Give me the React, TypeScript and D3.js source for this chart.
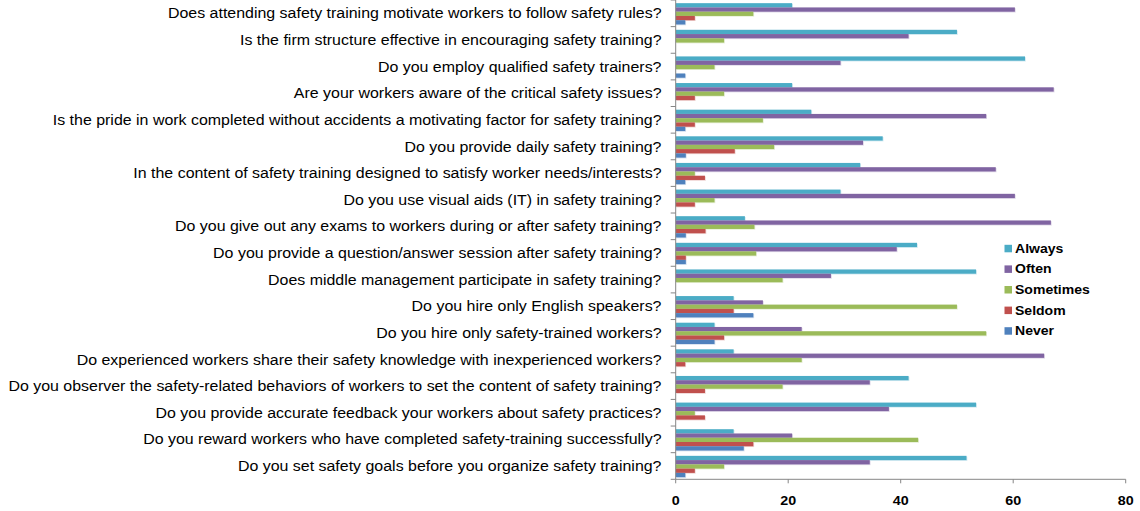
import React from "react";
import * as d3 from "d3";

const categories = [
  "Does attending safety training motivate workers to follow safety rules?",
  "Is the firm structure effective in encouraging safety training?",
  "Do you employ qualified safety trainers?",
  "Are your workers aware of the critical safety issues?",
  "Is the pride in work completed without accidents a motivating factor for safety training?",
  "Do you provide daily safety training?",
  "In the content of safety training designed to satisfy worker needs/interests?",
  "Do you use visual aids (IT) in safety training?",
  "Do you give out any exams to workers during or after safety training?",
  "Do you provide a question/answer session after safety training?",
  "Does middle management participate in safety training?",
  "Do you hire only English speakers?",
  "Do you hire only safety-trained workers?",
  "Do experienced workers share their safety knowledge with inexperienced workers?",
  "Do you observer the safety-related behaviors of workers to set the content of safety training?",
  "Do you provide accurate feedback your workers about safety practices?",
  "Do you reward workers who have completed safety-training successfully?",
  "Do you set safety goals before you organize safety training?",
];

const seriesNames = ["Always", "Often", "Sometimes", "Seldom", "Never"];
const seriesColors = ["#4BACC6", "#8064A2", "#9BBB59", "#C0504D", "#4F81BD"];

const always = [20.7, 50.0, 62.1, 20.7, 24.1, 36.8, 32.8, 29.3, 12.3, 42.9, 53.4, 10.3, 6.9, 10.3, 41.4, 53.4, 10.3, 51.7];
const often = [60.3, 41.4, 29.3, 67.2, 55.2, 33.3, 56.9, 60.3, 66.7, 39.3, 27.6, 15.5, 22.4, 65.5, 34.5, 37.9, 20.7, 34.5];
const sometimes = [13.8, 8.6, 6.9, 8.6, 15.5, 17.5, 3.4, 6.9, 14.0, 14.3, 19.0, 50.0, 55.2, 22.4, 19.0, 3.4, 43.1, 8.6];
const seldom = [3.4, 0, 0, 3.4, 3.4, 10.5, 5.2, 3.4, 5.3, 1.8, 0, 10.3, 8.6, 1.7, 5.2, 5.2, 13.8, 3.4];
const never = [1.7, 0, 1.7, 0, 1.7, 1.8, 1.7, 0, 1.8, 1.8, 0, 13.8, 6.9, 0, 0, 0, 12.1, 1.7];

const seriesValues = [always, often, sometimes, seldom, never];
const xTicks = [0, 20, 40, 60, 80];

const W = 1140;
const H = 511;
const plotLeft = 675.7;
const plotRight = 1125.7;
const plotTop = 0;
const plotBottom = 479.3;
const stretch = 1.1;

export default function App() {
  const x = d3.scaleLinear().domain([0, 80]).range([plotLeft, plotRight]);
  const y = d3
    .scaleBand<number>()
    .domain(d3.range(categories.length))
    .range([plotTop, plotBottom])
    .paddingInner(0)
    .paddingOuter(0);
  const bw = y.bandwidth();
  const gap = (bw / 6.25) * 1.25;
  const ys = d3
    .scaleBand<number>()
    .domain(d3.range(seriesNames.length))
    .range([gap / 2 + 0.5, bw - gap / 2 + 0.5])
    .padding(0);

  const font = "'Liberation Sans', Arial, sans-serif";

  return (
    <div style={{ position: "fixed", left: 0, top: 0 }}>
      <svg width={W} height={H} style={{ display: "block", background: "#fff" }}>
        {categories.map((c, ci) => (
          <g key={ci} transform={`translate(0,${y(ci)})`}>
            {seriesValues.map((vals, si) => {
              const v = vals[ci];
              if (!v) return null;
              const w = x(v) - x(0);
              return (
                <g key={si}>
                  <rect
                    x={x(0) + 0.8}
                    y={(ys(si) as number) + 0.8}
                    width={w}
                    height={ys.bandwidth()}
                    fill={seriesColors[si]}
                    opacity={0.25}
                  />
                  <rect x={x(0)} y={ys(si)} width={w} height={ys.bandwidth()} fill={seriesColors[si]} />
                </g>
              );
            })}
          </g>
        ))}

        <line x1={plotLeft} x2={plotLeft} y1={plotTop} y2={plotBottom} stroke="#868686" strokeWidth={1} />
        {d3.range(categories.length + 1).map((i) => {
          const yy = i < categories.length ? (y(i) as number) : plotBottom;
          return <line key={i} x1={plotLeft - 5} x2={plotLeft} y1={yy} y2={yy} stroke="#868686" strokeWidth={1} />;
        })}
        {categories.map((c, ci) => (
          <text
            key={ci}
            transform={`translate(661.5,${(y(ci) as number) + bw / 2}) scale(${stretch},1)`}
            dy="0.35em"
            textAnchor="end"
            fontFamily={font}
            fontSize={14.5}
            fill="#000"
          >
            {c}
          </text>
        ))}

        <line x1={plotLeft} x2={plotRight} y1={plotBottom} y2={plotBottom} stroke="#868686" strokeWidth={1} />
        {xTicks.map((t) => (
          <g key={t}>
            <line x1={x(t)} x2={x(t)} y1={plotBottom} y2={plotBottom + 4} stroke="#868686" strokeWidth={1} />
            <text
              transform={`translate(${x(t)},500) scale(${stretch},1)`}
              dy="0.35em"
              textAnchor="middle"
              fontFamily={font}
              fontWeight="bold"
              fontSize={13}
              fill="#000"
            >
              {t}
            </text>
          </g>
        ))}

        {seriesNames.map((n, i) => (
          <g key={n} transform={`translate(1004.5,${248.3 + i * 20.6})`}>
            <rect x={0} y={-3.5} width={7.5} height={7.5} fill={seriesColors[i]} />
            <text
              transform={`translate(10.5,0) scale(1.08,1)`}
              dy="0.35em"
              fontFamily={font}
              fontWeight="bold"
              fontSize={13}
              fill="#000"
            >
              {n}
            </text>
          </g>
        ))}
      </svg>
    </div>
  );
}
